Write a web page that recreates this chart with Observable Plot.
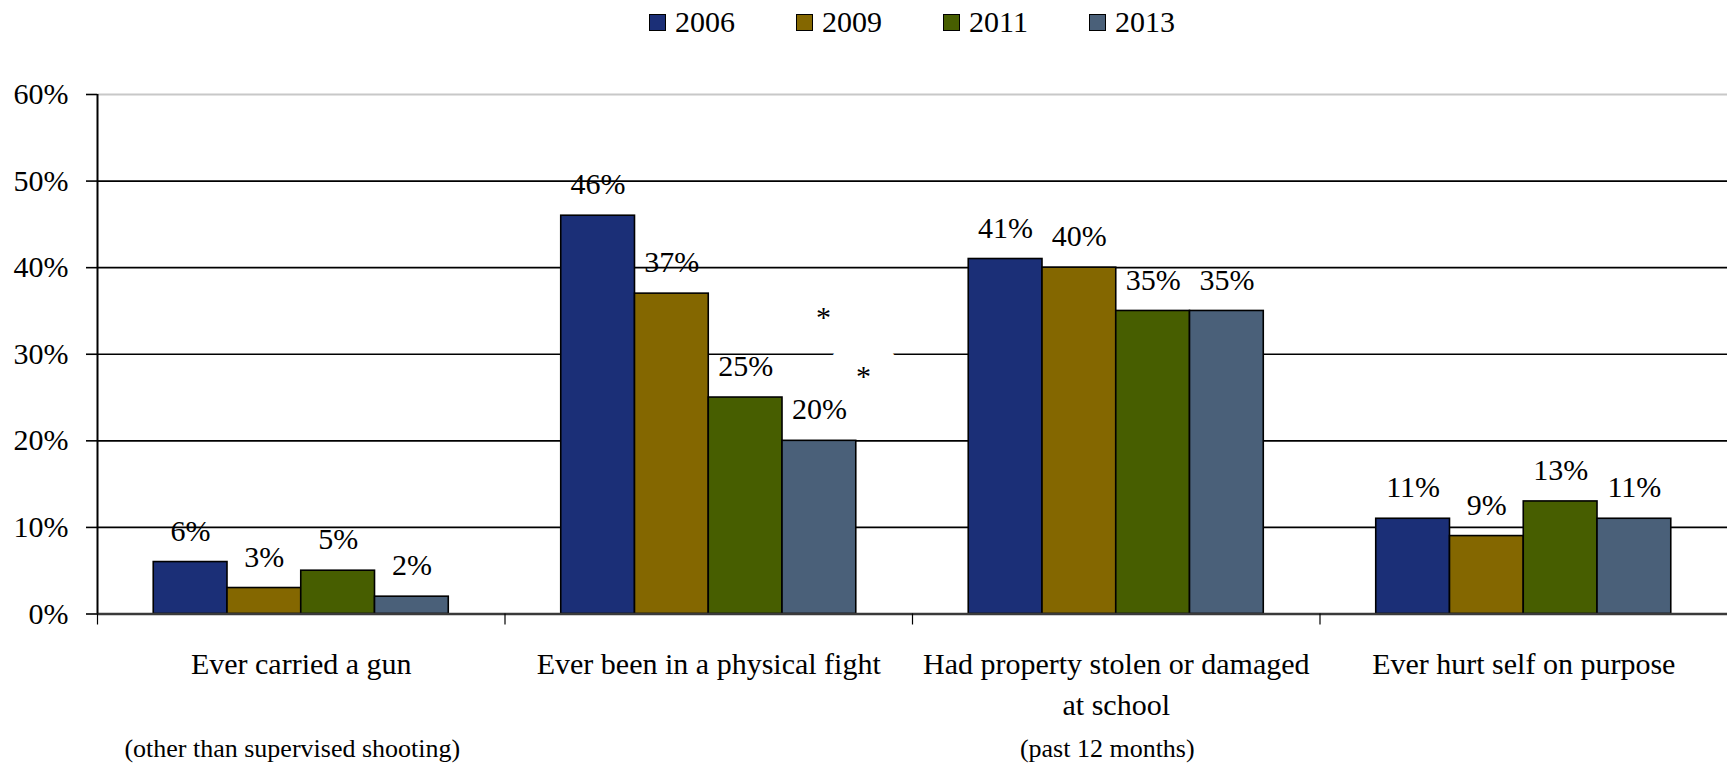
<!DOCTYPE html>
<html>
<head>
<meta charset="utf-8">
<script src="https://cdn.jsdelivr.net/npm/d3@7"></script>
<script src="https://cdn.jsdelivr.net/npm/@observablehq/plot@0.6"></script>
<style>
  body { margin: 0; background: #fff; font-family: "Liberation Serif", "Times New Roman", serif; }
  #legend { width: 1727px; height: 44px; box-sizing: border-box; padding-left: 97px;
            display: flex; justify-content: center; align-items: center; }
  .item { display: flex; align-items: center; margin: 0 30.5px; font-size: 30px; line-height: 1; }
  .sw { width: 15px; height: 15px; border: 1.5px solid #000; margin-right: 9px; }
  #chart svg { display: block; font-family: "Liberation Serif", serif; }
  #chart svg text { font-family: "Liberation Serif", serif; }
</style>
</head>
<body>
<div id="legend"></div>
<div id="chart"></div>
<script>
// ---- data ----
const categories = [
  "Ever carried a gun",
  "Ever been in a physical fight",
  "Had property stolen or damaged\nat school",
  "Ever hurt self on purpose"
];
const notes = ["(other than supervised shooting)", "", "(past 12 months)", ""];
const years = ["2006", "2009", "2011", "2013"];
const values2006 = [6, 46, 41, 11];
const values2009 = [3, 37, 40, 9];
const values2011 = [5, 25, 35, 13];
const values2013 = [2, 20, 35, 11];
const yTicks = [0, 10, 20, 30, 40, 50, 60];
// significance asterisks (category index, year, approx. value level)
const sigMarks = [
  {cat: 1, year: "2013", level: 34.2},
  {cat: 1, year: "2013", level: 27.4}
];
const colors = ["#1b2f77", "#846700", "#475e00", "#4a6079"];

// ---- layout within each category band (fractions of band) ----
const FONT = "Liberation Serif";
const barFrac = 0.181;
const groupPad = (1 - years.length * barFrac) / 2;
const seriesValues = [values2006, values2009, values2011, values2013];

const rows = [];
categories.forEach((c, ci) => {
  years.forEach((y, yi) => {
    const x1 = ci + groupPad + yi * barFrac;
    rows.push({category: c, year: y, value: seriesValues[yi][ci], x1, x2: x1 + barFrac, xc: x1 + barFrac / 2});
  });
});
const sigRows = sigMarks.map(s => {
  const yi = years.indexOf(s.year);
  return {...s, xc: s.cat + groupPad + yi * barFrac + barFrac / 2};
});

// ---- legend ----
const legend = document.getElementById("legend");
years.forEach((y, i) => {
  const it = document.createElement("div");
  it.className = "item";
  const sw = document.createElement("div");
  sw.className = "sw";
  sw.style.background = colors[i];
  it.appendChild(sw);
  it.appendChild(document.createTextNode(y));
  legend.appendChild(it);
});

// ---- chart ----
const chart = Plot.plot({
  width: 1727,
  height: 721,
  marginLeft: 97,
  marginRight: 0,
  marginTop: 50,
  marginBottom: 151.5,
  style: {fontFamily: FONT, fontSize: "30px", color: "#000", background: "#fff"},
  x: {type: "linear", domain: [0, categories.length]},
  y: {domain: [0, 60]},
  color: {domain: years, range: colors},
  marks: [
    Plot.ruleY(yTicks.filter(d => d > 0 && d < 60), {stroke: "#000", strokeWidth: 1.6}),
    Plot.ruleY([60], {stroke: "#c8c8c8", strokeWidth: 2}),
    Plot.text(sigRows.slice(1), {x: "xc", y: "level", text: () => "*", dx: 44, fill: "#000",
      stroke: "#fff", strokeWidth: 58, fontFamily: FONT, fontSize: 30}),
    Plot.rect(rows, {x1: "x1", x2: "x2", y1: 0, y2: "value", fill: "year", stroke: "#000", strokeWidth: 1.6}),
    Plot.ruleY([0], {stroke: "#3a3a3a", strokeWidth: 2.5}),
    Plot.ruleX([0], {y1: 0, y2: 60, stroke: "#000", strokeWidth: 2}),
    Plot.axisY({ticks: yTicks, tickFormat: d => d + "%", tickSize: 11, tickPadding: 18, label: null,
      stroke: "#000", strokeWidth: 1.6, fontFamily: FONT, fontSize: 30, fill: "#000"}),
    Plot.axisX({ticks: d3.range(categories.length), tickFormat: () => "", tickSize: 11, label: null,
      stroke: "#000", strokeWidth: 1.2}),
    Plot.text(rows, {x: "xc", y: "value", text: d => d.value + "%", dy: -31, fill: "#000", fontFamily: FONT, fontSize: 30}),
    Plot.text(sigRows.slice(0, 1), {x: "xc", y: "level", text: () => "*", dx: 4, fill: "#000", fontFamily: FONT, fontSize: 30}),
    Plot.text(categories, {x: (d, i) => i + 0.5, frameAnchor: "bottom", lineAnchor: "top", dy: 30.5,
      lineHeight: 1.367, fill: "#000", fontFamily: FONT, fontSize: 30}),
    Plot.text(notes, {x: (d, i) => i + 0.5, frameAnchor: "bottom", lineAnchor: "top", dy: 124.5, dx: -9,
      fill: "#000", fontFamily: FONT, fontSize: 26})
  ]
});
document.getElementById("chart").appendChild(chart);
</script>
</body>
</html>
